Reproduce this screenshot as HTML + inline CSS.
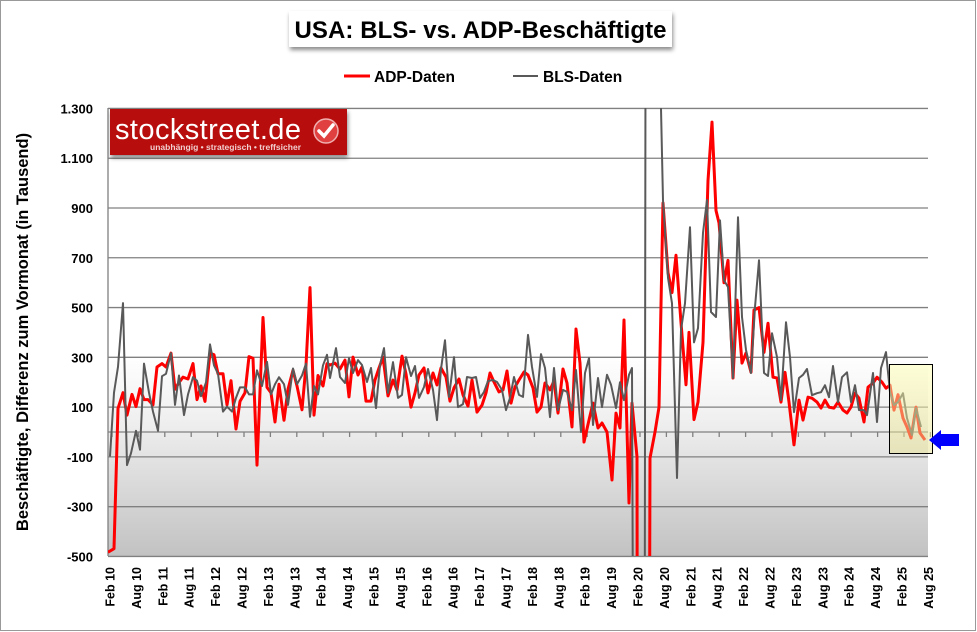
<!DOCTYPE html>
<html><head><meta charset="utf-8">
<style>
html,body{margin:0;padding:0;background:#fff;}
body{width:977px;height:632px;overflow:hidden;font-family:"Liberation Sans",sans-serif;}
svg{display:block;}
svg text{font-family:"Liberation Sans",sans-serif;font-weight:bold;}
</style></head>
<body>
<svg id="c" width="977" height="632" xmlns="http://www.w3.org/2000/svg">
<defs>
<linearGradient id="bg" x1="0" y1="0" x2="0" y2="1">
<stop offset="0" stop-color="#ffffff"/>
<stop offset="0.55" stop-color="#ffffff"/>
<stop offset="0.7" stop-color="#efefef"/>
<stop offset="1" stop-color="#c2c2c2"/>
</linearGradient>
<linearGradient id="yb" x1="0" y1="0" x2="0" y2="1">
<stop offset="0" stop-color="#ffffb0" stop-opacity="0.5"/>
<stop offset="1" stop-color="#e6e090" stop-opacity="0.5"/>
</linearGradient>
<clipPath id="pc"><rect x="108" y="108" width="820" height="448"/></clipPath>
<filter id="sh" x="-10%" y="-20%" width="120%" height="160%"><feDropShadow dx="1" dy="3" stdDeviation="2" flood-color="#000" flood-opacity="0.45"/></filter>
</defs>
<rect x="0.5" y="0.5" width="975" height="630" fill="#fff" stroke="#999"/>
<rect x="108" y="108" width="820" height="448" fill="url(#bg)"/>
<g id="grid" stroke="#808080" stroke-width="1.3"></g>
<g id="ylab" font-size="13" text-anchor="end" fill="#000"></g>
<g id="xlab" font-size="12.5" fill="#000"></g>
<g clip-path="url(#pc)">
<polyline id="red" fill="none" stroke="#ff0000" stroke-width="3" stroke-linejoin="round"/>
<polyline id="gray" fill="none" stroke="#595959" stroke-width="2" stroke-linejoin="round"/>
</g>
<rect x="889.5" y="364.5" width="43" height="89" fill="url(#yb)" stroke="#000" stroke-width="1"/>
<polygon points="929,440 941,430 941,434 959,434 959,446 941,446 941,450" fill="#0000ff"/>
<rect x="289" y="11" width="383" height="36" fill="#fff" filter="url(#sh)"/>
<text x="480.5" y="38" font-size="24" text-anchor="middle" fill="#000" textLength="372">USA: BLS- vs. ADP-Beschäftigte</text>
<line x1="344" y1="76" x2="370" y2="76" stroke="#ff0000" stroke-width="3"/>
<text x="374" y="82" font-size="15.5">ADP-Daten</text>
<line x1="513" y1="76" x2="538" y2="76" stroke="#595959" stroke-width="2"/>
<text x="543" y="82" font-size="15.5">BLS-Daten</text>
<text transform="translate(28,332) rotate(-90)" font-size="16.5" text-anchor="middle">Beschäftigte,  Differenz zum Vormonat  (in Tausend)</text>
<rect x="110" y="109" width="237" height="46" fill="#b80c10" filter="url(#sh)"/>
<text x="115" y="139" font-size="29" fill="#fff" style="font-weight:normal" textLength="186">stockstreet.de</text>
<text x="150" y="150" font-size="8.5" fill="#f2d0d0" textLength="151">unabhängig • strategisch • treffsicher</text>
<circle cx="326" cy="131" r="12" fill="#e04040" stroke="#f0b0b0" stroke-width="1.5"/>
<path d="M319,131 l5,5 l9,-11" fill="none" stroke="#fff" stroke-width="3.5" stroke-linecap="round"/>
</svg>
<script>
(function(){
var NS="http://www.w3.org/2000/svg";
function Y(v){return 432-v*0.24889;}
var g=document.getElementById('grid');
function ln(p,x1,y1,x2,y2){var l=document.createElementNS(NS,'line');l.setAttribute('x1',x1);l.setAttribute('y1',y1);l.setAttribute('x2',x2);l.setAttribute('y2',y2);p.appendChild(l);return l;}
var yl=document.getElementById('ylab');
var labs=['1.300','1.100','900','700','500','300','100','-100','-300','-500'];
for(var i=0;i<10;i++){var v=1300-i*200;var y=Y(v);ln(g,108,y,928,y);
var t=document.createElementNS(NS,'text');t.setAttribute('x',93);t.setAttribute('y',y+5);t.textContent=labs[i];yl.appendChild(t);}
ln(g,108,108,108,556);
ln(g,108,432,928,432);
var xl=document.getElementById('xlab');
for(var k=0;k<32;k++){var x=110+k*26.4;ln(g,x+2,432,x+2,437);
var yr=10+Math.floor(k/2);var s=(k%2?'Aug ':'Feb ')+(yr<10?'0':'')+yr;
var t=document.createElementNS(NS,'text');t.setAttribute('transform','translate('+(x+4.5)+',567) rotate(-90)');t.setAttribute('text-anchor','end');t.textContent=s;xl.appendChild(t);}
var red=[108,-483,114,-469,118,95,123,158,127,68,132,151,136,102,140,174,144,130,148,130,153,109,157,261,162,275,166,261,171,317,175,172,179,199,183,220,188,213,193,275,197,130,201,185,205,123,210,317,214,310,218,234,223,234,227,109,231,206,236,12,240,123,245,158,249,303,253,296,257,-133,263,460,267,179,271,158,275,40,279,192,284,47,288,172,293,248,297,185,302,89,306,268,310,580,314,68,318,227,323,185,327,275,
330,269,335,277,340,253,345,289,349,141,353,301,358,229,362,261,366,124,371,124,375,209,379,257,383,301,388,145,393,209,397,169,402,305,406,233,411,100,415,157,419,229,424,257,428,157,433,237,437,189,441,257,446,221,450,124,454,177,459,213,463,149,468,104,472,209,477,80,482,108,486,157,490,237,494,201,499,161,503,169,507,245,511,116,515,181,519,209,524,241,528,229,533,177,537,80,541,100,545,197,550,169,554,205,558,76,563,253,567,197,572,20,576,414,580,277,584,-40,589,48,593,116,598,16,602,36,607,0,612,-193,616,76,620,16,624,450,629,-285,632,116,637,-100,638,-3000,648,-3000,650,-105,655,0,659,100,663,920,668,640,672,560,676,710,681,440,686,190,689,400,694,50,698,120,703,360,708,1010,712,1245,716,890,719,840,724,600,728,690,733,217,737,530,742,277,746,317,751,240,754,490,759,500,764,320,768,437,773,220,777,217,781,120,785,240,789,120,794,-52,799,128,803,48,808,140,812,136,817,120,821,96,825,128,829,100,834,96,838,120,843,88,847,76,851,100,855,156,859,136,864,40,868,180,873,196,877,220,882,200,886,176,890,188,894,88,898,150,903,56,907,20,911,-24,916,100,920,-4,925,-32];
var gray=[110,-98,114,158,118,262,123,518,127,-133,131,-85,136,5,140,-71,144,275,149,158,153,82,158,5,162,224,166,234,171,317,175,109,179,227,184,68,188,151,193,220,197,206,201,144,206,199,210,352,214,268,218,234,223,82,227,102,232,82,236,137,240,179,245,179,249,151,253,151,257,248,262,185,267,282,271,151,275,192,279,220,284,192,288,109,293,255,297,192,302,227,306,275,310,61,314,185,318,151,323,268,327,310,
330,217,336,337,340,221,345,197,349,297,353,237,358,289,362,269,367,201,371,257,376,96,380,269,384,337,388,157,393,281,398,137,402,149,406,301,411,225,415,265,419,137,424,181,428,253,433,169,437,48,441,253,445,369,449,141,454,301,458,100,463,112,467,221,472,217,476,221,480,137,484,161,488,205,493,209,497,201,502,169,506,88,510,137,514,221,519,149,523,141,528,390,532,261,537,141,541,313,545,257,550,60,554,257,558,88,563,169,567,161,572,88,576,249,581,0,585,237,589,297,593,28,598,217,602,100,607,230,611,190,616,96,620,200,624,128,629,230,632,257,635,-3000,644,-3000,646,3000,658,3000,661,1300,663,930,668,620,672,517,677,-185,681,410,685,517,690,823,694,360,698,417,703,800,707,932,711,482,716,462,720,850,724,610,728,582,733,217,738,863,742,462,746,330,751,237,755,502,759,690,764,237,768,225,772,397,777,301,781,128,786,441,790,301,794,80,799,217,803,230,807,253,812,148,817,156,821,160,825,188,829,140,833,265,838,120,842,220,847,240,851,120,855,188,859,88,864,88,867,68,873,237,877,40,881,257,886,321,890,160,894,108,898,120,903,156,907,56,912,-12,916,96,921,20];
function pts(a){var s=[];for(var i=0;i<a.length;i+=2){s.push(a[i]+','+Y(a[i+1]).toFixed(1));}return s.join(' ');}
document.getElementById('red').setAttribute('points',pts(red));
document.getElementById('gray').setAttribute('points',pts(gray));
})();
</script>
</body></html>
